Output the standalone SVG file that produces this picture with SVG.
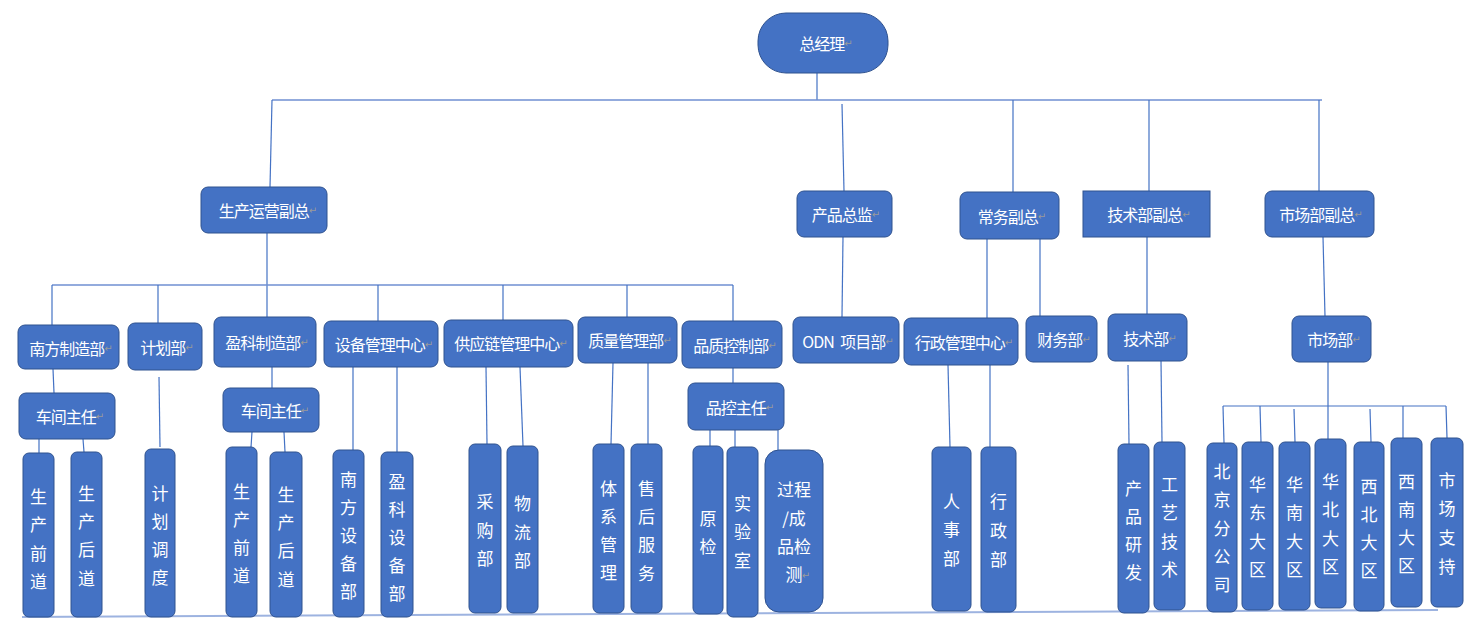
<svg xmlns="http://www.w3.org/2000/svg" width="1483" height="629" viewBox="0 0 1483 629">
<style>
.n{fill:#4472C4;stroke:#2F528F;stroke-width:1}
.t{fill:#fff;font-family:"Noto Sans CJK SC","Noto Sans CJK JP",sans-serif;font-size:16px;text-anchor:middle;dominant-baseline:central;letter-spacing:-1px}
.v{font-size:17px;letter-spacing:0}
.m{fill:#9a9a9a;font-size:10px;font-family:"DejaVu Sans",sans-serif;letter-spacing:0}
.w{word-spacing:4px}
.c line{stroke:#4472C4;stroke-width:1.2}
.c .h{stroke:#6f8fd2;stroke-width:1.6}
.c .b{stroke:#9db3e0;stroke-width:2}
</style>
<rect width="1483" height="629" fill="#fff"/>
<g class="c" id="connectors">
<line class="b" x1="22" y1="617" x2="1438" y2="610"/>
<line x1="817" y1="73" x2="817" y2="100"/>
<line class="h" x1="272" y1="100" x2="1322" y2="100"/>
<line x1="272" y1="100" x2="270" y2="187"/>
<line x1="842" y1="104" x2="844" y2="191"/>
<line x1="1013" y1="100" x2="1013" y2="192"/>
<line x1="1149" y1="100" x2="1149" y2="191"/>
<line x1="1319" y1="100" x2="1319" y2="191"/>
<line x1="267" y1="233" x2="267" y2="317"/>
<line class="h" x1="52" y1="285" x2="733" y2="285"/>
<line x1="52" y1="285" x2="52" y2="325"/>
<line x1="158" y1="285" x2="158" y2="323"/>
<line x1="378" y1="285" x2="378" y2="321"/>
<line x1="503" y1="285" x2="503" y2="320"/>
<line x1="627" y1="285" x2="627" y2="317"/>
<line x1="733" y1="285" x2="733" y2="321"/>
<line x1="53" y1="369" x2="54" y2="393"/>
<line x1="39" y1="439" x2="39" y2="453"/>
<line x1="83" y1="439" x2="84" y2="452"/>
<line x1="159" y1="377" x2="160" y2="447"/>
<line x1="272" y1="367" x2="272" y2="388"/>
<line x1="252" y1="432" x2="251" y2="447"/>
<line x1="284" y1="432" x2="285" y2="452"/>
<line x1="353" y1="367" x2="353" y2="450"/>
<line x1="397" y1="367" x2="397" y2="452"/>
<line x1="486" y1="367" x2="487" y2="444"/>
<line x1="520" y1="367" x2="523" y2="446"/>
<line x1="613" y1="363" x2="611" y2="444"/>
<line x1="648" y1="363" x2="648" y2="444"/>
<line x1="733" y1="368" x2="733" y2="383"/>
<line x1="710" y1="430" x2="710" y2="446"/>
<line x1="735" y1="430" x2="735" y2="447"/>
<line x1="778" y1="430" x2="778" y2="450"/>
<line x1="843" y1="237" x2="842" y2="317"/>
<line x1="987" y1="239" x2="987" y2="318"/>
<line x1="1040" y1="239" x2="1040" y2="316"/>
<line x1="948" y1="365" x2="950" y2="447"/>
<line x1="990" y1="365" x2="990" y2="447"/>
<line x1="1147" y1="237" x2="1147" y2="314"/>
<line x1="1128" y1="365" x2="1129" y2="444"/>
<line x1="1161" y1="361" x2="1162" y2="442"/>
<line x1="1323" y1="237" x2="1325" y2="316"/>
<line x1="1328" y1="362" x2="1328" y2="439"/>
<line x1="1223" y1="406" x2="1446" y2="406"/>
<line x1="1223" y1="406" x2="1224" y2="443"/>
<line x1="1260" y1="406" x2="1261" y2="442"/>
<line x1="1294" y1="409" x2="1295" y2="442"/>
<line x1="1370" y1="409" x2="1371" y2="442"/>
<line x1="1403" y1="406" x2="1403" y2="438"/>
<line x1="1446" y1="406" x2="1447" y2="438"/>
</g>
<g id="n-zjl"><rect class="n" x="758" y="13" width="130" height="60" rx="28"/><text class="t" x="826" y="43">总经理<tspan class="m">↵</tspan></text></g>
<g id="n-scyy"><rect class="n" x="201" y="187" width="126" height="46" rx="7"/><text class="t" x="268" y="210">生产运营副总<tspan class="m">↵</tspan></text></g>
<g id="n-cpzj"><rect class="n" x="797" y="191" width="95" height="46" rx="7"/><text class="t" x="846" y="214">产品总监<tspan class="m">↵</tspan></text></g>
<g id="n-cwfz"><rect class="n" x="960" y="192" width="99" height="47" rx="7"/><text class="t" x="1012" y="216">常务副总<tspan class="m">↵</tspan></text></g>
<g id="n-jsfz"><rect class="n" x="1083" y="191" width="127" height="46"/><text class="t" x="1149" y="214">技术部副总<tspan class="m">↵</tspan></text></g>
<g id="n-scfz"><rect class="n" x="1265" y="191" width="109" height="46" rx="7"/><text class="t" x="1321" y="214">市场部副总<tspan class="m">↵</tspan></text></g>

<g id="n-nfzz"><rect class="n" x="18" y="325" width="101" height="44" rx="7"/><text class="t" x="71" y="348">南方制造部<tspan class="m">↵</tspan></text></g>
<g id="n-jhb"><rect class="n" x="128" y="323" width="74" height="47" rx="7"/><text class="t" x="167" y="347">计划部<tspan class="m">↵</tspan></text></g>
<g id="n-ykzz"><rect class="n" x="214" y="317" width="102" height="50" rx="7"/><text class="t" x="267" y="342">盈科制造部<tspan class="m">↵</tspan></text></g>
<g id="n-sbgl"><rect class="n" x="324" y="321" width="114" height="46" rx="7"/><text class="t" x="384" y="344">设备管理中心<tspan class="m">↵</tspan></text></g>
<g id="n-gyl"><rect class="n" x="444" y="320" width="129" height="47" rx="7"/><text class="t" x="511" y="343">供应链管理中心<tspan class="m">↵</tspan></text></g>
<g id="n-zlgl"><rect class="n" x="578" y="317" width="99" height="46" rx="7"/><text class="t" x="630" y="340">质量管理部<tspan class="m">↵</tspan></text></g>
<g id="n-pzkz"><rect class="n" x="682" y="321" width="100" height="47" rx="7"/><text class="t" x="735" y="345">品质控制部<tspan class="m">↵</tspan></text></g>
<g id="n-odn"><rect class="n" x="793" y="317" width="106" height="46" rx="7"/><text class="t w" x="848" y="341">ODN 项目部<tspan class="m">↵</tspan></text></g>
<g id="n-xzgl"><rect class="n" x="904" y="318" width="114" height="47" rx="7"/><text class="t" x="964" y="342">行政管理中心<tspan class="m">↵</tspan></text></g>
<g id="n-cwb"><rect class="n" x="1026" y="316" width="71" height="46" rx="7"/><text class="t" x="1064" y="339">财务部<tspan class="m">↵</tspan></text></g>
<g id="n-jsb"><rect class="n" x="1108" y="314" width="79" height="47" rx="7"/><text class="t" x="1150" y="338">技术部<tspan class="m">↵</tspan></text></g>
<g id="n-scb"><rect class="n" x="1292" y="316" width="79" height="46" rx="7"/><text class="t" x="1334" y="339">市场部<tspan class="m">↵</tspan></text></g>

<g id="n-cjzr1"><rect class="n" x="19" y="393" width="96" height="46" rx="7"/><text class="t" x="70" y="416">车间主任<tspan class="m">↵</tspan></text></g>
<g id="n-cjzr2"><rect class="n" x="223" y="388" width="96" height="44" rx="7"/><text class="t" x="275" y="410">车间主任<tspan class="m">↵</tspan></text></g>
<g id="n-pkzr"><rect class="n" x="688" y="383" width="96" height="47" rx="7"/><text class="t" x="740" y="407">品控主任<tspan class="m">↵</tspan></text></g>

<g id="n-scqd1"><rect class="n" x="23" y="453" width="31" height="164" rx="6"/><text class="t v"><tspan x="38.5" y="495">生</tspan><tspan x="38.5" y="523">产</tspan><tspan x="38.5" y="552">前</tspan><tspan x="38.5" y="580">道</tspan></text></g>
<g id="n-schd1"><rect class="n" x="71" y="452" width="31" height="165" rx="6"/><text class="t v"><tspan x="86.5" y="492">生</tspan><tspan x="86.5" y="520">产</tspan><tspan x="86.5" y="548">后</tspan><tspan x="86.5" y="577">道</tspan></text></g>
<g id="n-jhdd"><rect class="n" x="145" y="449" width="30" height="168" rx="6"/><text class="t v"><tspan x="160" y="492">计</tspan><tspan x="160" y="520">划</tspan><tspan x="160" y="548">调</tspan><tspan x="160" y="576">度</tspan></text></g>
<g id="n-scqd2"><rect class="n" x="226" y="447" width="31" height="170" rx="6"/><text class="t v"><tspan x="241.5" y="490">生</tspan><tspan x="241.5" y="518">产</tspan><tspan x="241.5" y="546">前</tspan><tspan x="241.5" y="574">道</tspan></text></g>
<g id="n-schd2"><rect class="n" x="270" y="452" width="32" height="165" rx="6"/><text class="t v"><tspan x="286" y="493">生</tspan><tspan x="286" y="521">产</tspan><tspan x="286" y="549">后</tspan><tspan x="286" y="578">道</tspan></text></g>
<g id="n-nfsb"><rect class="n" x="333" y="450" width="31" height="167" rx="6"/><text class="t v"><tspan x="348.5" y="478">南</tspan><tspan x="348.5" y="506">方</tspan><tspan x="348.5" y="534">设</tspan><tspan x="348.5" y="562">备</tspan><tspan x="348.5" y="590">部</tspan></text></g>
<g id="n-yksb"><rect class="n" x="381" y="452" width="32" height="165" rx="6"/><text class="t v"><tspan x="397" y="480">盈</tspan><tspan x="397" y="508">科</tspan><tspan x="397" y="536">设</tspan><tspan x="397" y="564">备</tspan><tspan x="397" y="592">部</tspan></text></g>
<g id="n-cgb"><rect class="n" x="469" y="444" width="32" height="169" rx="6"/><text class="t v"><tspan x="485" y="500">采</tspan><tspan x="485" y="529">购</tspan><tspan x="485" y="557">部</tspan></text></g>
<g id="n-wlb"><rect class="n" x="507" y="446" width="31" height="167" rx="6"/><text class="t v"><tspan x="522.5" y="502">物</tspan><tspan x="522.5" y="531">流</tspan><tspan x="522.5" y="559">部</tspan></text></g>
<g id="n-txgl"><rect class="n" x="593" y="444" width="31" height="169" rx="6"/><text class="t v"><tspan x="608.5" y="487">体</tspan><tspan x="608.5" y="515">系</tspan><tspan x="608.5" y="543">管</tspan><tspan x="608.5" y="571">理</tspan></text></g>
<g id="n-shfw"><rect class="n" x="631" y="444" width="31" height="169" rx="6"/><text class="t v"><tspan x="646.5" y="487">售</tspan><tspan x="646.5" y="515">后</tspan><tspan x="646.5" y="543">服</tspan><tspan x="646.5" y="572">务</tspan></text></g>
<g id="n-yj"><rect class="n" x="693" y="446" width="30" height="168" rx="6"/><text class="t v"><tspan x="708" y="517">原</tspan><tspan x="708" y="545">检</tspan></text></g>
<g id="n-sys"><rect class="n" x="727" y="447" width="31" height="170" rx="6"/><text class="t v"><tspan x="742.5" y="502">实</tspan><tspan x="742.5" y="530">验</tspan><tspan x="742.5" y="559">室</tspan></text></g>
<g id="n-gccp"><rect class="n" x="765" y="450" width="58" height="162" rx="14"/><text class="t v"><tspan x="794" y="488">过程</tspan><tspan x="794" y="517">/成</tspan><tspan x="794" y="545">品检</tspan><tspan x="794" y="573">测</tspan></text><text class="t m" x="806" y="575">↵</text></g>
<g id="n-rsb"><rect class="n" x="932" y="447" width="39" height="164" rx="6"/><text class="t v"><tspan x="951.5" y="500">人</tspan><tspan x="951.5" y="528">事</tspan><tspan x="951.5" y="557">部</tspan></text></g>
<g id="n-xzb"><rect class="n" x="981" y="447" width="35" height="165" rx="6"/><text class="t v"><tspan x="998.5" y="500">行</tspan><tspan x="998.5" y="529">政</tspan><tspan x="998.5" y="558">部</tspan></text></g>
<g id="n-cpyf"><rect class="n" x="1118" y="444" width="31" height="169" rx="6"/><text class="t v"><tspan x="1133.5" y="487">产</tspan><tspan x="1133.5" y="515">品</tspan><tspan x="1133.5" y="543">研</tspan><tspan x="1133.5" y="571">发</tspan></text></g>
<g id="n-gyjs"><rect class="n" x="1154" y="442" width="31" height="168" rx="6"/><text class="t v"><tspan x="1169.5" y="483">工</tspan><tspan x="1169.5" y="511">艺</tspan><tspan x="1169.5" y="540">技</tspan><tspan x="1169.5" y="568">术</tspan></text></g>
<g id="n-bj"><rect class="n" x="1207" y="443" width="30" height="169" rx="6"/><text class="t v"><tspan x="1222" y="470">北</tspan><tspan x="1222" y="498">京</tspan><tspan x="1222" y="527">分</tspan><tspan x="1222" y="555">公</tspan><tspan x="1222" y="583">司</tspan></text></g>
<g id="n-hd"><rect class="n" x="1242" y="442" width="31" height="168" rx="6"/><text class="t v"><tspan x="1257.5" y="483">华</tspan><tspan x="1257.5" y="511">东</tspan><tspan x="1257.5" y="540">大</tspan><tspan x="1257.5" y="568">区</tspan></text></g>
<g id="n-hn"><rect class="n" x="1279" y="442" width="31" height="168" rx="6"/><text class="t v"><tspan x="1294.5" y="483">华</tspan><tspan x="1294.5" y="511">南</tspan><tspan x="1294.5" y="540">大</tspan><tspan x="1294.5" y="568">区</tspan></text></g>
<g id="n-hb"><rect class="n" x="1315" y="439" width="31" height="169" rx="6"/><text class="t v"><tspan x="1330.5" y="480">华</tspan><tspan x="1330.5" y="508">北</tspan><tspan x="1330.5" y="537">大</tspan><tspan x="1330.5" y="565">区</tspan></text></g>
<g id="n-xb"><rect class="n" x="1354" y="442" width="30" height="169" rx="6"/><text class="t v"><tspan x="1369" y="485">西</tspan><tspan x="1369" y="513">北</tspan><tspan x="1369" y="541">大</tspan><tspan x="1369" y="569">区</tspan></text></g>
<g id="n-xn"><rect class="n" x="1391" y="438" width="31" height="169" rx="6"/><text class="t v"><tspan x="1406.5" y="480">西</tspan><tspan x="1406.5" y="508">南</tspan><tspan x="1406.5" y="536">大</tspan><tspan x="1406.5" y="564">区</tspan></text></g>
<g id="n-sczc"><rect class="n" x="1431" y="438" width="32" height="169" rx="6"/><text class="t v"><tspan x="1447" y="479">市</tspan><tspan x="1447" y="507">场</tspan><tspan x="1447" y="536">支</tspan><tspan x="1447" y="565">持</tspan></text></g>
</svg>
